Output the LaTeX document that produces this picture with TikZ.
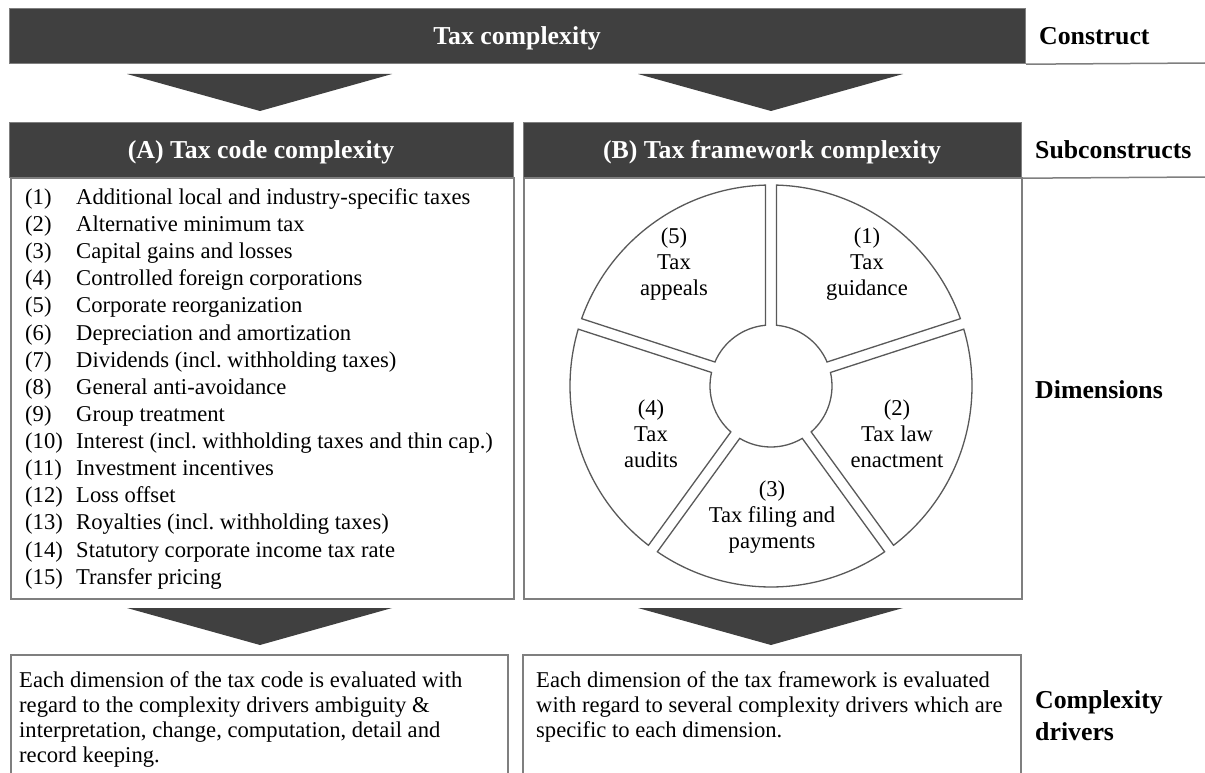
\documentclass[tikz,border=0pt]{standalone}
\usepackage{fontspec}
\setmainfont{Liberation Serif}
\definecolor{barfill}{HTML}{404040}
\definecolor{edge}{HTML}{7F7F7F}
\definecolor{segedge}{HTML}{595959}
\begin{document}
\begin{tikzpicture}[x=1pt,y=-1pt,
  darkbar/.style={fill=barfill, draw=edge, line width=1.2pt, anchor=north west, inner sep=0},
  boxline/.style={draw=edge, line width=1.5pt},
  tri/.style={fill=barfill, draw=none},
  hdr/.style={text=white, font=\bfseries\fontsize{25.8}{30}\selectfont, anchor=base, inner sep=0},
  sidelbl/.style={font=\bfseries\fontsize{25.8}{32}\selectfont, anchor=base west, inner sep=0, align=left},
  itemtxt/.style={font=\fontsize{22.6}{27}\selectfont, anchor=base west, inner sep=0},
  seg/.style={draw=segedge, line width=1.3pt, fill=white},
  seglbl/.style={font=\fontsize{22.6}{26}\selectfont, align=center, anchor=north, inner sep=0},
  bodytxt/.style={font=\fontsize{22.6}{25}\selectfont, align=left, anchor=north west, inner sep=0}
]
\useasboundingbox[fill=white] (0,0) rectangle (1205,773);

% top construct bar
\node[darkbar, minimum width=1016pt, minimum height=55pt] (top) at (9,8) {};
\node[hdr] (toptxt) at (517,45) {Tax complexity};
\node[sidelbl] (construct) at (1039,45) {Construct};
\draw[boxline] (top.south east) -- (1205,63);

% arrows down
\fill[tri] (127,74) -- (392,74) -- (260,111) -- cycle;
\fill[tri] (638,74) -- (903,74) -- (771,111) -- cycle;

% subconstruct headers
\node[darkbar, minimum width=504pt, minimum height=55pt] (hA) at (9,122) {};
\node[darkbar, minimum width=498pt, minimum height=55pt] (hB) at (523,122) {};
\node[hdr] (hAt) at (261,158) {(A) Tax code complexity};
\node[hdr] (hBt) at (772,158) {(B) Tax framework complexity};
\node[sidelbl] (subc) at (1035,158) {Subconstructs};
\draw[boxline] (hB.south east) -- (1205,177);

% dimension boxes
\node[boxline, anchor=north west, minimum width=503pt, minimum height=421pt, inner sep=0] (bA) at (10,177) {};
\node[boxline, anchor=north west, minimum width=498pt, minimum height=421pt, inner sep=0] (bB) at (523,177) {};
\node[sidelbl] (dims) at (1035,398) {Dimensions};

% list of tax code dimensions
\foreach \n/\t [count=\i from 0] in {
  1/Additional local and industry-specific taxes,
  2/Alternative minimum tax,
  3/Capital gains and losses,
  4/Controlled foreign corporations,
  5/Corporate reorganization,
  6/Depreciation and amortization,
  7/Dividends (incl.\ withholding taxes),
  8/General anti-avoidance,
  9/Group treatment,
  10/Interest (incl.\ withholding taxes and thin cap.),
  11/Investment incentives,
  12/Loss offset,
  13/Royalties (incl.\ withholding taxes),
  14/Statutory corporate income tax rate,
  15/Transfer pricing} {
  \node[itemtxt] (num\n) at (25,{204.3+27.14*\i}) {(\n)};
  \node[itemtxt] (item\n) at (76,{204.3+27.14*\i}) {\t};
}

% pie of tax framework dimensions
\begin{scope}[shift={(771,386)}]
\foreach \a in {18,90,162,234,306} {
  \pgfmathsetmacro\b{\a+72}
  \draw[seg] ({-(\a+1.57)}:201) arc[start angle={-(\a+1.57)}, end angle={-(\b-1.57)}, radius=201]
    -- ({-(\b-5.17)}:61) arc[start angle={-(\b-5.17)}, end angle={-(\a+5.17)}, radius=61] -- cycle;
}
\end{scope}
\node[seglbl] (d1) at (867,227.4) {(1)\\Tax\\guidance};
\node[seglbl] (d5) at (674,227.4) {(5)\\Tax\\appeals};
\node[seglbl] (d2) at (897,399.7) {(2)\\Tax law\\enactment};
\node[seglbl] (d4) at (651,399.7) {(4)\\Tax\\audits};
\node[seglbl] (d3) at (772,480.7) {(3)\\Tax filing and\\payments};

% arrows down
\fill[tri] (127,608) -- (392,608) -- (260,645) -- cycle;
\fill[tri] (638,608) -- (903,608) -- (771,645) -- cycle;

% complexity driver boxes (cut at the bottom)
\coordinate (cA1) at (11,790); \coordinate (cA2) at (508,790);
\coordinate (cB1) at (523,790); \coordinate (cB2) at (1021,790);
\draw[boxline] (cA1) -- (11,655) -- (508,655) -- (cA2);
\draw[boxline] (cB1) -- (523,655) -- (1021,655) -- (cB2);
\node[bodytxt] (tA) at (19,671.6) {Each dimension of the tax code is evaluated with\\regard to the complexity drivers ambiguity \&\\interpretation, change, computation, detail and\\record keeping.};
\node[bodytxt] (tB) at (536,671.6) {Each dimension of the tax framework is evaluated\\with regard to several complexity drivers which are\\specific to each dimension.};
\node[sidelbl] (drv) at (1035,740) {Complexity\\drivers};
\end{tikzpicture}
\end{document}
